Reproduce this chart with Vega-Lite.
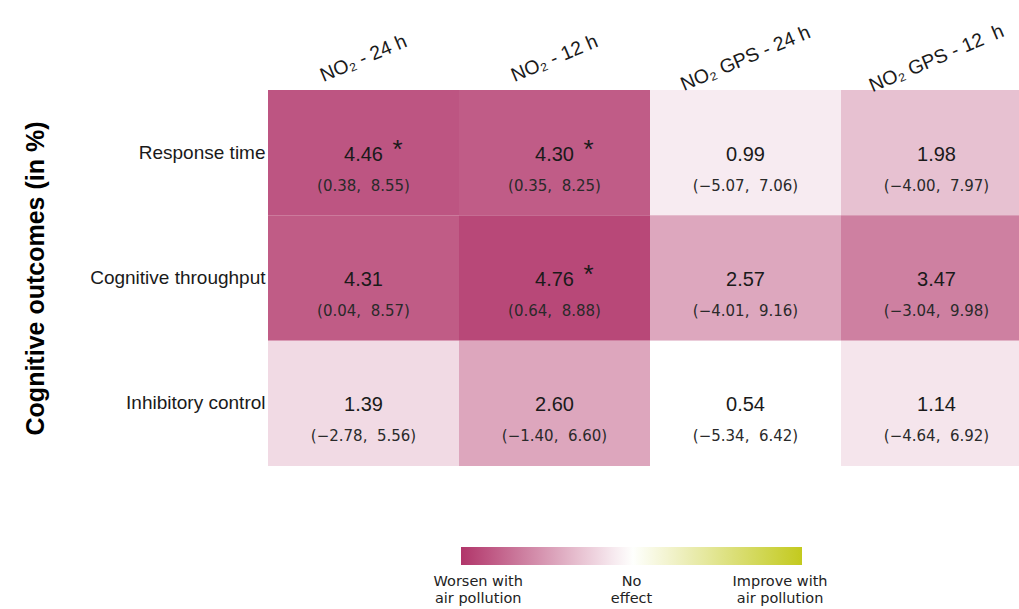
{
  "$schema": "https://vega.github.io/schema/vega-lite/v6.json",
  "autosize": {"type": "none"},
  "padding": {"left": 268, "top": 90, "right": 0, "bottom": 143},
  "width": 764,
  "height": 376,
  "background": "white",
  "config": {"view": {"stroke": null}},
  "data": {
    "values": [
      {"outcome": "Response time", "exposure": "NO₂ - 24 h", "est": 4.46, "ci": "(0.38,\u00a0 8.55)", "sig": "*"},
      {"outcome": "Response time", "exposure": "NO₂ - 12 h", "est": 4.30, "ci": "(0.35,\u00a0 8.25)", "sig": "*"},
      {"outcome": "Response time", "exposure": "NO₂ GPS - 24 h", "est": 0.99, "ci": "(−5.07,\u00a0 7.06)", "sig": ""},
      {"outcome": "Response time", "exposure": "NO₂ GPS - 12\u00a0 h", "est": 1.98, "ci": "(−4.00,\u00a0 7.97)", "sig": ""},
      {"outcome": "Cognitive throughput", "exposure": "NO₂ - 24 h", "est": 4.31, "ci": "(0.04,\u00a0 8.57)", "sig": ""},
      {"outcome": "Cognitive throughput", "exposure": "NO₂ - 12 h", "est": 4.76, "ci": "(0.64,\u00a0 8.88)", "sig": "*"},
      {"outcome": "Cognitive throughput", "exposure": "NO₂ GPS - 24 h", "est": 2.57, "ci": "(−4.01,\u00a0 9.16)", "sig": ""},
      {"outcome": "Cognitive throughput", "exposure": "NO₂ GPS - 12\u00a0 h", "est": 3.47, "ci": "(−3.04,\u00a0 9.98)", "sig": ""},
      {"outcome": "Inhibitory control", "exposure": "NO₂ - 24 h", "est": 1.39, "ci": "(−2.78,\u00a0 5.56)", "sig": ""},
      {"outcome": "Inhibitory control", "exposure": "NO₂ - 12 h", "est": 2.60, "ci": "(−1.40,\u00a0 6.60)", "sig": ""},
      {"outcome": "Inhibitory control", "exposure": "NO₂ GPS - 24 h", "est": 0.54, "ci": "(−5.34,\u00a0 6.42)", "sig": ""},
      {"outcome": "Inhibitory control", "exposure": "NO₂ GPS - 12\u00a0 h", "est": 1.14, "ci": "(−4.64,\u00a0 6.92)", "sig": ""}
    ]
  },
  "encoding": {
    "x": {
      "field": "exposure", "type": "nominal", "sort": null,
      "scale": {"paddingInner": 0, "paddingOuter": 0},
      "axis": {
        "orient": "top", "title": null, "ticks": false, "domain": false,
        "labelAngle": -23, "labelAlign": "center", "labelBaseline": "middle",
        "labelPadding": 32, "labelFont": "Liberation Sans", "labelFontSize": 19.5,
        "labelColor": "#1a1a1a", "labelLimit": 300
      }
    },
    "y": {
      "field": "outcome", "type": "nominal", "sort": null,
      "scale": {"paddingInner": 0, "paddingOuter": 0},
      "axis": {
        "title": "Cognitive outcomes (in %)", "ticks": false, "domain": false,
        "labelPadding": 3, "labelFont": "Liberation Sans", "labelFontSize": 19,
        "labelColor": "#1a1a1a", "labelLimit": 300,
        "titleFont": "Liberation Sans", "titleFontSize": 25, "titleFontWeight": "bold",
        "titleColor": "#000000", "titleX": -233, "titleY": 188, "titleBaseline": "middle", "titleAngle": -90
      }
    }
  },
  "layer": [
    {
      "mark": {"type": "rect"},
      "encoding": {
        "color": {
          "field": "est", "type": "quantitative",
          "scale": {"domain": [5.2, 0.54, -4.12], "range": ["#b1356a", "#ffffff", "#c3ca1e"], "interpolate": "rgb"},
          "legend": {
            "title": null, "orient": "none", "direction": "horizontal",
            "legendX": 193, "legendY": 457,
            "gradientLength": 341, "gradientThickness": 18,
            "values": [4.73, 0.54, -3.52],
            "labelExpr": "datum.value > 2 ? ['Worsen with', 'air pollution'] : datum.value < -2 ? ['Improve with', 'air pollution'] : ['No', 'effect']",
            "labelAlign": "center", "labelOverlap": false,
            "labelFont": "DejaVu Sans", "labelFontSize": 14.5, "labelColor": "#222222",
            "labelOffset": 10, "labelLimit": 200
          }
        }
      }
    },
    {
      "mark": {"type": "text", "font": "Liberation Sans", "fontSize": 20, "color": "#1a1a1a", "dy": 2},
      "encoding": {"text": {"field": "est", "type": "quantitative", "format": ".2f"}}
    },
    {
      "mark": {"type": "text", "font": "DejaVu Sans", "fontSize": 15, "color": "#2a2a2a", "dy": 33},
      "encoding": {"text": {"field": "ci", "type": "nominal"}}
    },
    {
      "mark": {"type": "text", "font": "Liberation Sans", "fontSize": 26, "color": "#1a1a1a", "dx": 34, "dy": -3},
      "encoding": {"text": {"field": "sig", "type": "nominal"}}
    }
  ]
}
